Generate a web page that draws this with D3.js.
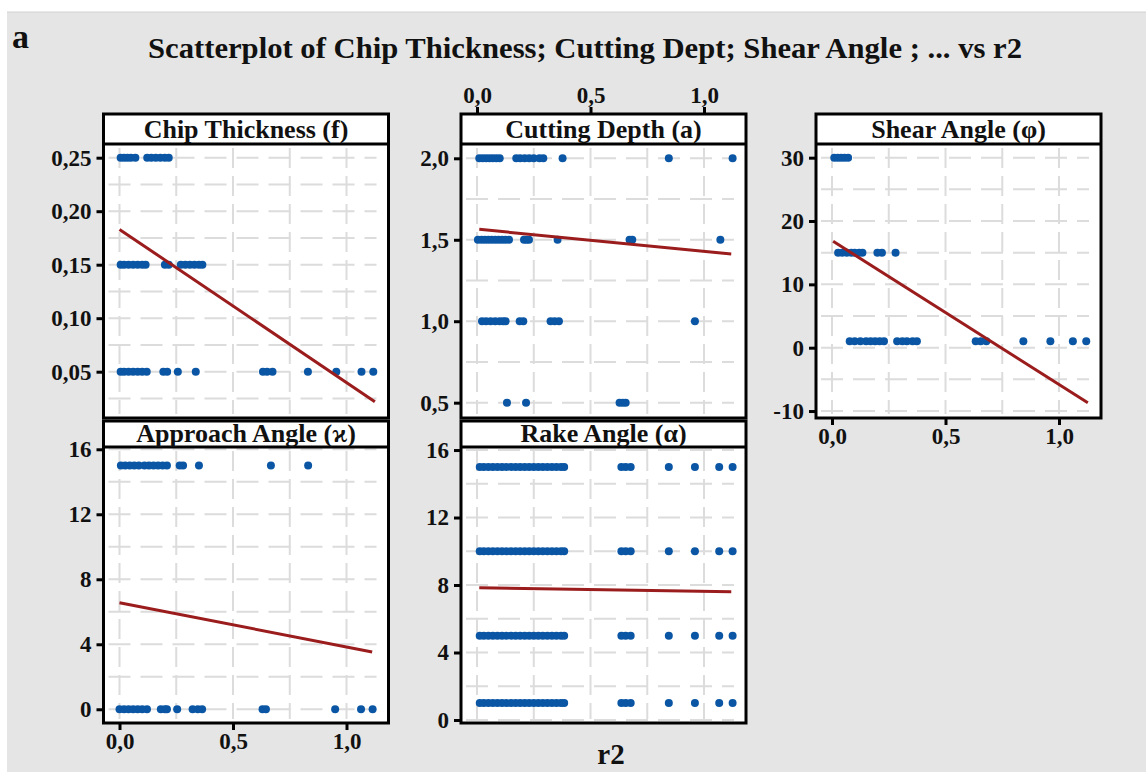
<!DOCTYPE html>
<html>
<head>
<meta charset="utf-8">
<script src="https://cdnjs.cloudflare.com/ajax/libs/d3/7.8.5/d3.min.js"></script>
<style>
body { margin: 0; background: #fff; }
svg { display: block; }
text { font-family: "Liberation Serif", "Times New Roman", serif; font-weight: bold; fill: #111; }
</style>
</head>
<body>
<svg id="chart" width="1146" height="772"></svg>
<script>
var panelTitles = ["Chip Thickness (f)", "Cutting Depth (a)", "Shear Angle (\u03c6)", "Approach Angle (\u03f0)", "Rake Angle (\u03b1)"];
var xTicks = [0, 0.5, 1.0];
var xGrid = [0, 0.25, 0.5, 0.75, 1.0];

var chipTicks = [0.05, 0.10, 0.15, 0.20, 0.25];
var chipGrid = [0.025, 0.05, 0.075, 0.1, 0.125, 0.15, 0.175, 0.2, 0.225, 0.25];
var chipRows = [
    [0.25, [0.005, 0.02, 0.035, 0.05, 0.07, 0.122, 0.14, 0.16, 0.18, 0.2, 0.217]],
    [0.15, [0.005, 0.02, 0.04, 0.06, 0.08, 0.1, 0.115, 0.2, 0.217, 0.27, 0.29, 0.31, 0.33, 0.35, 0.365]],
    [0.05, [0.005, 0.02, 0.04, 0.06, 0.08, 0.1, 0.12, 0.193, 0.21, 0.257, 0.336, 0.632, 0.65, 0.674, 0.83, 0.955, 1.066, 1.118]]
];
var chipFit = [[0, 0.183], [1.125, 0.022]];

var cutTicks = [0.5, 1.0, 1.5, 2.0];
var cutGrid = [0.5, 0.75, 1.0, 1.25, 1.5, 1.75, 2.0];
var cutRows = [
    [2.0, [0.01, 0.025, 0.04, 0.055, 0.07, 0.085, 0.1, 0.173, 0.19, 0.21, 0.23, 0.25, 0.275, 0.292, 0.377, 0.845, 1.126]],
    [1.5, [0.004, 0.02, 0.035, 0.05, 0.065, 0.08, 0.095, 0.11, 0.125, 0.141, 0.207, 0.218, 0.229, 0.355, 0.672, 0.684, 1.072]],
    [1.0, [0.022, 0.04, 0.06, 0.08, 0.1, 0.115, 0.126, 0.188, 0.204, 0.324, 0.342, 0.361, 0.96]],
    [0.5, [0.132, 0.216, 0.628, 0.642, 0.655]]
];
var cutFit = [[0.01, 1.564], [1.12, 1.413]];

var shearTicks = [-10, 0, 10, 20, 30];
var shearGrid = [-10, -5, 0, 5, 10, 15, 20, 25, 30];
var shearRows = [
    [30, [0.01, 0.025, 0.04, 0.055, 0.071]],
    [15, [0.027, 0.045, 0.065, 0.085, 0.1, 0.12, 0.134, 0.2, 0.22, 0.28]],
    [1, [0.078, 0.1, 0.125, 0.15, 0.17, 0.19, 0.21, 0.229, 0.287, 0.31, 0.33, 0.355, 0.374, 0.633, 0.655, 0.68, 0.843, 0.962, 1.061, 1.12]]
];
var shearFit = [[0.005, 16.8], [1.127, -8.7]];

var angleTicks = [0, 4, 8, 12, 16];
var angleGrid = [0, 2, 4, 6, 8, 10, 12, 14, 16];
var approachRows = [
    [15, [0.006, 0.025, 0.045, 0.065, 0.085, 0.11, 0.13, 0.15, 0.17, 0.19, 0.209, 0.265, 0.28, 0.35, 0.667, 0.831]],
    [0, [0, 0.02, 0.04, 0.06, 0.08, 0.1, 0.121, 0.182, 0.2, 0.209, 0.254, 0.322, 0.345, 0.364, 0.63, 0.645, 0.95, 1.064, 1.115]]
];
var approachFit = [[0, 6.55], [1.113, 3.53]];

var rakeR2 = [0.012, 0.03, 0.05, 0.07, 0.09, 0.11, 0.13, 0.15, 0.17, 0.19, 0.21, 0.23, 0.25, 0.27, 0.29, 0.31, 0.33, 0.35, 0.37, 0.384, 0.636, 0.655, 0.677, 0.845, 0.96, 1.067, 1.126];
var rakeRows = [[15, rakeR2], [10, rakeR2], [5, rakeR2], [1, rakeR2]];
var rakeFit = [[0.01, 7.84], [1.12, 7.6]];

var svg = d3.select("#chart");
var W = 285;
var xDomain = [-0.0705, 1.185];
var colX = [103.5, 461, 816];
var rowY = [
    {top: 114, plotTop: 144, bottom: 418, textY: 138},
    {top: 421, plotTop: 447, bottom: 723, textY: 442}
];

function commaFmt(digits) {
    return function(d) { return d.toFixed(digits).replace(".", ","); };
}
function intFmt(d) { return String(d); }

var panels = [
    {title: panelTitles[0], col: 0, row: 0, rows: chipRows, fit: chipFit, ticks: chipTicks, grid: chipGrid, yDomain: [0.00673, 0.2628], fmt: commaFmt(2), xAxis: null},
    {title: panelTitles[1], col: 1, row: 0, rows: cutRows, fit: cutFit, ticks: cutTicks, grid: cutGrid, yDomain: [0.406, 2.0878], fmt: commaFmt(1), xAxis: "top"},
    {title: panelTitles[2], col: 2, row: 0, rows: shearRows, fit: shearFit, ticks: shearTicks, grid: shearGrid, yDomain: [-11.1, 32.16], fmt: intFmt, xAxis: "bottom"},
    {title: panelTitles[3], col: 0, row: 1, rows: approachRows, fit: approachFit, ticks: angleTicks, grid: angleGrid, yDomain: [-0.845, 16.14], fmt: intFmt, xAxis: "bottom"},
    {title: panelTitles[4], col: 1, row: 1, rows: rakeRows, fit: rakeFit, ticks: angleTicks, grid: angleGrid, yDomain: [-0.178, 16.18], fmt: intFmt, xAxis: null}
];

// background
svg.append("rect").attr("x", 7).attr("y", 12).attr("width", 1139).attr("height", 760).attr("fill", "#e5e5e5");
svg.append("line").attr("x1", 7).attr("x2", 1146).attr("y1", 12).attr("y2", 12).attr("stroke", "#d2d2d2").attr("stroke-width", 1);

svg.append("text").attr("x", 12).attr("y", 48).style("font-size", "34px").text("a");
svg.append("text").attr("x", 585).attr("y", 58).attr("text-anchor", "middle")
    .attr("textLength", 874).attr("lengthAdjust", "spacingAndGlyphs")
    .style("font-size", "30px").text("Scatterplot of Chip Thickness; Cutting Dept; Shear Angle ; ... vs r2");
svg.append("text").attr("x", 611).attr("y", 764).attr("text-anchor", "middle").style("font-size", "29px").text("r2");

function styleAxis(sel) {
    sel.select(".domain").remove();
    sel.selectAll(".tick line").attr("stroke", "#000").attr("stroke-width", 3);
    sel.selectAll(".tick text").style("font-size", "23px").attr("fill", "#111");
}

panels.forEach(drawPanel);

function drawPanel(p) {
    var x0 = colX[p.col];
    var r = rowY[p.row];
    var g = svg.append("g");
    var x = d3.scaleLinear().domain(xDomain).range([x0, x0 + W]);
    var y = d3.scaleLinear().domain(p.yDomain).range([r.bottom, r.plotTop]);

    g.append("rect").attr("x", x0).attr("y", r.top).attr("width", W).attr("height", r.bottom - r.top).attr("fill", "#fff");

    g.selectAll(".vg").data(xGrid).enter().append("line")
        .attr("x1", function(d) { return x(d); })
        .attr("x2", function(d) { return x(d); })
        .attr("y1", r.plotTop + 4).attr("y2", r.bottom - 4)
        .attr("stroke", "#dcdcdc").attr("stroke-width", 2)
        .attr("stroke-dasharray", "20,8");
    g.selectAll(".hg").data(p.grid).enter().append("line")
        .attr("x1", x0 + 5).attr("x2", x0 + W - 12)
        .attr("y1", function(d) { return y(d); })
        .attr("y2", function(d) { return y(d); })
        .attr("stroke", "#dcdcdc").attr("stroke-width", 2)
        .attr("stroke-dasharray", "22,10");

    p.rows.forEach(function(row) {
        g.selectAll(null).data(row[1]).enter().append("circle")
            .attr("cx", function(d) { return x(d); })
            .attr("cy", y(row[0]))
            .attr("r", 4)
            .attr("fill", "#0b56a4");
    });

    g.append("line")
        .attr("x1", x(p.fit[0][0])).attr("y1", y(p.fit[0][1]))
        .attr("x2", x(p.fit[1][0])).attr("y2", y(p.fit[1][1]))
        .attr("stroke", "#9b1c1c").attr("stroke-width", 3);

    // frame and header
    g.append("rect").attr("x", x0).attr("y", r.top).attr("width", W).attr("height", r.bottom - r.top)
        .attr("fill", "none").attr("stroke", "#000").attr("stroke-width", 3);
    g.append("line").attr("x1", x0).attr("x2", x0 + W).attr("y1", r.plotTop).attr("y2", r.plotTop)
        .attr("stroke", "#000").attr("stroke-width", 3);
    g.append("text").attr("x", x0 + W / 2).attr("y", r.textY).attr("text-anchor", "middle")
        .style("font-size", "26px").text(p.title);

    var ya = d3.axisLeft(y).tickValues(p.ticks).tickSize(6).tickPadding(5).tickFormat(p.fmt);
    g.append("g").attr("transform", "translate(" + (x0 - 1) + ",0)").call(ya).call(styleAxis);

    if (p.xAxis === "top") {
        var xa = d3.axisTop(x).tickValues(xTicks).tickSize(6).tickPadding(4).tickFormat(commaFmt(1));
        g.append("g").attr("transform", "translate(0," + (r.top - 1) + ")").call(xa).call(styleAxis);
    } else if (p.xAxis === "bottom") {
        var xb = d3.axisBottom(x).tickValues(xTicks).tickSize(6).tickPadding(3).tickFormat(commaFmt(1));
        g.append("g").attr("transform", "translate(0," + (r.bottom + 1) + ")").call(xb).call(styleAxis);
    }
}
</script>
</body>
</html>
